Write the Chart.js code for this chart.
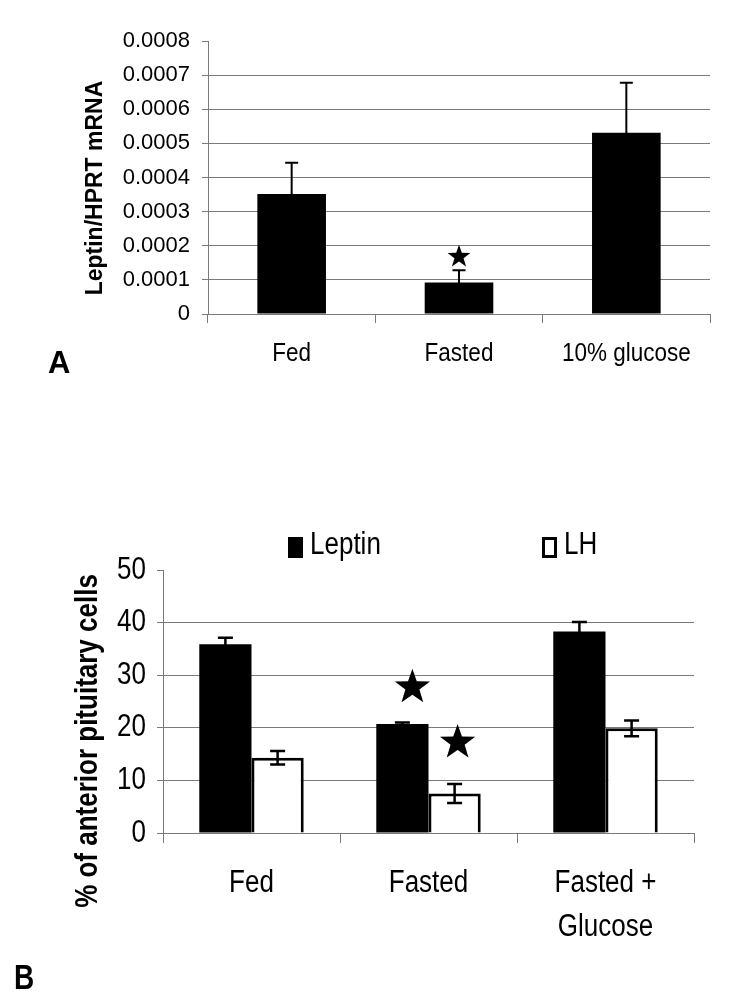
<!DOCTYPE html>
<html><head><meta charset="utf-8">
<script src="https://cdn.jsdelivr.net/npm/chart.js@4.4.0/dist/chart.umd.min.js"></script>
<style>
html,body{margin:0;padding:0;background:#fff;width:750px;height:1004px;overflow:hidden;position:relative}
canvas{position:absolute;left:0}
#cA{top:0}
#cB{top:400px}
.lbl{position:absolute;color:#000;white-space:nowrap;line-height:1;margin:0;padding:0}
.box{position:absolute;box-sizing:border-box}
</style></head><body>
<canvas id="cA" width="750" height="400" style="width:750px;height:400px"></canvas>
<canvas id="cB" width="750" height="604" style="width:750px;height:604px"></canvas>
<div id="legendB"></div>
<div class="lbl" id="panelA">A</div>
<div class="lbl" id="panelB">B</div>
<script>
// ---------- Data: panel A ----------
const categoriesA = ['Fed', 'Fasted', '10% glucose'];
const leptinMrna = [0.000352, 0.000092, 0.000531];
const leptinMrnaErr = [0.000091, 0.000036, 0.000147];
const tickLabelsA = ['0', '0.0001', '0.0002', '0.0003', '0.0004', '0.0005', '0.0006', '0.0007', '0.0008'];
const yTitleA = 'Leptin/HPRT mRNA';
const starsA = [{ series: 0, category: 1, value: 0.000168 }];

// ---------- Data: panel B ----------
const categoriesB = ['Fed', 'Fasted', ['Fasted +', 'Glucose']];
const seriesNamesB = ['Leptin', 'LH'];
const leptinCells = [35.9, 20.7, 38.3];
const leptinCellsErr = [1.2, 0.3, 1.8];
const lhCells = [14.3, 7.5, 19.9];
const lhCellsErr = [1.3, 1.8, 1.5];
const tickLabelsB = ['0', '10', '20', '30', '40', '50'];
const yTitleB = '% of anterior pituitary cells';
const starsB = [{ series: 0, category: 1, value: 27.7 }, { series: 1, category: 1, value: 17.2 }];

// ---------- fonts ----------
function hasFont(name) {
  const c = document.createElement('canvas').getContext('2d');
  const s = 'Leptin Fasted 0123456789';
  c.font = '40px monospace';
  const w0 = c.measureText(s).width;
  c.font = "40px '" + name + "', monospace";
  return Math.abs(c.measureText(s).width - w0) > 0.5;
}
const narrow = hasFont('Liberation Sans Narrow');
const FA = "'Liberation Sans', Arial, sans-serif";
const FB = narrow ? "'Liberation Sans Narrow', 'Liberation Sans', Arial, sans-serif" : FA;
const sB = narrow ? 32 : 26;
const stretchB = narrow ? 1 : 1.2;
const GRID = '#7a7a7a';

// ---------- plugins ----------
function drawStar(ctx, x, y, R) {
  const r = R * 0.4;
  ctx.beginPath();
  for (let k = 0; k < 10; k++) {
    const a = -Math.PI / 2 + k * Math.PI / 5;
    const rr = k % 2 === 0 ? R : r;
    const px = x + rr * Math.cos(a), py = y + rr * Math.sin(a);
    if (k === 0) ctx.moveTo(px, py); else ctx.lineTo(px, py);
  }
  ctx.closePath();
  ctx.fill();
}
const markPlugin = {
  id: 'marks',
  afterDatasetsDraw(chart, args, o) {
    const ctx = chart.ctx, ys = chart.scales.y;
    chart.data.datasets.forEach((ds, di) => {
      if (!ds.errors) return;
      const meta = chart.getDatasetMeta(di);
      meta.data.forEach((el, i) => {
        const v = ds.data[i], e = ds.errors[i];
        const yt = ys.getPixelForValue(v + e), yb = ys.getPixelForValue(v - e);
        ctx.save();
        ctx.strokeStyle = '#000';
        ctx.lineWidth = o.errWidth;
        ctx.beginPath();
        ctx.moveTo(el.x, yt); ctx.lineTo(el.x, yb);
        ctx.moveTo(el.x - o.cap, yt); ctx.lineTo(el.x + o.cap, yt);
        ctx.moveTo(el.x - o.cap, yb); ctx.lineTo(el.x + o.cap, yb);
        ctx.stroke();
        ctx.restore();
      });
    });
    (o.stars || []).forEach((s, k) => {
      const el = chart.getDatasetMeta(s.series).data[s.category];
      const x = el.x + ((o.starShift && o.starShift[k]) || 0);
      const y = ys.getPixelForValue(s.value);
      ctx.save(); ctx.fillStyle = '#000'; drawStar(ctx, x, y, o.starR); ctx.restore();
    });
    if (o.yTitle) {
      ctx.save();
      ctx.translate(o.yTitle.x, o.yTitle.y);
      ctx.rotate(-Math.PI / 2);
      ctx.font = o.yTitle.font;
      ctx.fillStyle = '#000';
      ctx.textAlign = 'center';
      ctx.textBaseline = 'middle';
      ctx.fillText(o.yTitle.text, 0, 0);
      ctx.restore();
    }
  }
};
// vertically stretches glyphs (the reference figure's text is stretched);
// if o.match is given, only text drawn with a font containing that string
const stretchPlugin = {
  id: 'textStretch',
  beforeDraw(chart, args, o) {
    const k = o && o.k;
    if (!k || k === 1) return;
    const ctx = chart.ctx;
    if (ctx.__origFill) return;
    const orig = ctx.fillText;
    ctx.__origFill = orig;
    ctx.fillText = function (t, x, y, w) {
      if (o.match && this.font.indexOf(o.match) < 0) {
        if (w === undefined) return orig.call(this, t, x, y);
        return orig.call(this, t, x, y, w);
      }
      this.save();
      this.translate(x, y);
      this.scale(1, k);
      if (w === undefined) orig.call(this, t, 0, 0); else orig.call(this, t, 0, 0, w);
      this.restore();
    };
  },
  afterDraw(chart) {
    const ctx = chart.ctx;
    if (ctx.__origFill) { ctx.fillText = ctx.__origFill; delete ctx.__origFill; }
  }
};

Chart.defaults.animation = false;

// ---------- Chart A ----------
const chartA = new Chart(document.getElementById('cA'), {
  type: 'bar',
  data: {
    labels: categoriesA,
    datasets: [{ label: 'Leptin/HPRT', data: leptinMrna, errors: leptinMrnaErr, backgroundColor: '#000', borderWidth: 0, categoryPercentage: 0.41, barPercentage: 1 }]
  },
  options: {
    responsive: false, maintainAspectRatio: false, devicePixelRatio: 1,
    layout: { padding: { left: 0, right: 40, top: 41, bottom: 0 } },
    plugins: {
      legend: { display: false }, tooltip: { enabled: false },
      textStretch: { k: 1.17, match: '22.5px' },
      marks: { errWidth: 2, cap: 6.5, stars: starsA, starR: 12,
        yTitle: { text: yTitleA, x: 96, y: 188, font: "bold 23px " + FA } }
    },
    scales: {
      x: {
        ticks: { padding: 17, color: '#000', font: { family: FA, size: 22.5 } },
        grid: { drawOnChartArea: false, tickLength: 9, color: GRID, tickColor: GRID },
        border: { color: GRID, width: 1 },
        afterFit(s) { s.height = 86; }
      },
      y: {
        min: 0, max: 0.0008,
        ticks: { stepSize: 0.0001, padding: 12, color: '#000', font: { family: FA, size: 22 },
          callback: (v, i) => tickLabelsA[i] },
        grid: { color: c => (c.tick && c.tick.value > 0.00079) ? 'rgba(0,0,0,0)' : GRID, tickColor: GRID, tickLength: 6, lineWidth: 1 },
        border: { color: GRID, width: 1 },
        afterFit(s) { s.width = 208; }
      }
    }
  },
  plugins: [stretchPlugin, markPlugin]
});

// ---------- Chart B ----------
const chartB = new Chart(document.getElementById('cB'), {
  type: 'bar',
  data: {
    labels: categoriesB,
    datasets: [
      { label: seriesNamesB[0], data: leptinCells, errors: leptinCellsErr, backgroundColor: '#000', borderColor: '#000', borderWidth: 0, categoryPercentage: 0.59, barPercentage: 1 },
      { label: seriesNamesB[1], data: lhCells, errors: lhCellsErr, backgroundColor: '#fff', borderColor: '#000', borderWidth: 3, categoryPercentage: 0.59, barPercentage: 1 }
    ]
  },
  options: {
    responsive: false, maintainAspectRatio: false, devicePixelRatio: 1,
    layout: { padding: { left: 0, right: 56, top: 170, bottom: 0 } },
    plugins: {
      legend: { display: false }, tooltip: { enabled: false },
      textStretch: { k: stretchB },
      marks: { errWidth: 2.5, cap: 7.5, stars: starsB, starR: 18.5, starShift: [10, 3],
        yTitle: { text: yTitleB, x: 88, y: 341, font: "bold " + sB + "px " + FB } }
    },
    scales: {
      x: {
        ticks: { padding: 18, color: '#000', font: { family: FB, size: sB, lineHeight: 44 / sB } },
        grid: { drawOnChartArea: false, tickLength: 10, color: GRID, tickColor: GRID },
        border: { color: GRID, width: 1 },
        afterFit(s) { s.height = 171; }
      },
      y: {
        min: 0, max: 50,
        ticks: { stepSize: 10, padding: 11, color: '#000', font: { family: FB, size: sB },
          callback: (v, i) => tickLabelsB[i] },
        grid: { color: c => (c.tick && c.tick.value >= 50) ? 'rgba(0,0,0,0)' : GRID, tickColor: GRID, tickLength: 6, lineWidth: 1 },
        border: { color: GRID, width: 1 },
        afterFit(s) { s.width = 163; }
      }
    }
  },
  plugins: [stretchPlugin, markPlugin]
});

// ---------- HTML legend for B (built from the datasets) ----------
(function () {
  const host = document.getElementById('legendB');
  const lefts = [288, 542];
  const baseline = 552;
  chartB.data.datasets.forEach((ds, i) => {
    const box = document.createElement('div');
    box.className = 'box';
    Object.assign(box.style, { left: lefts[i] + 'px', top: '537px', width: '15px', height: '21px',
      background: ds.backgroundColor, border: (ds.borderWidth ? 3 : 0) + 'px solid ' + ds.borderColor });
    host.appendChild(box);
    const t = document.createElement('div');
    t.className = 'lbl';
    t.textContent = ds.label;
    const top = baseline - 0.8465 * sB;
    Object.assign(t.style, { left: (lefts[i] + 22) + 'px', top: top + 'px',
      fontFamily: FB, fontSize: sB + 'px',
      transformOrigin: '0 ' + (540 - top) + 'px', transform: 'scaleY(' + stretchB + ')' });
    host.appendChild(t);
  });
  const pA = document.getElementById('panelA');
  Object.assign(pA.style, { left: '48px', top: (373 - 0.8465 * 31) + 'px', fontFamily: FA, fontSize: '31px', fontWeight: 'bold' });
  const pB = document.getElementById('panelB');
  const bs = narrow ? 34 : 28;
  const bTop = 986.7 - 0.8465 * bs;
  Object.assign(pB.style, { left: '14px', top: bTop + 'px', fontFamily: FB, fontSize: bs + 'px', fontWeight: 'bold',
    transformOrigin: '0 ' + (974 - bTop) + 'px', transform: 'scaleY(' + (narrow ? 1 : 1.25) + ')' });
})();
</script>
</body></html>
